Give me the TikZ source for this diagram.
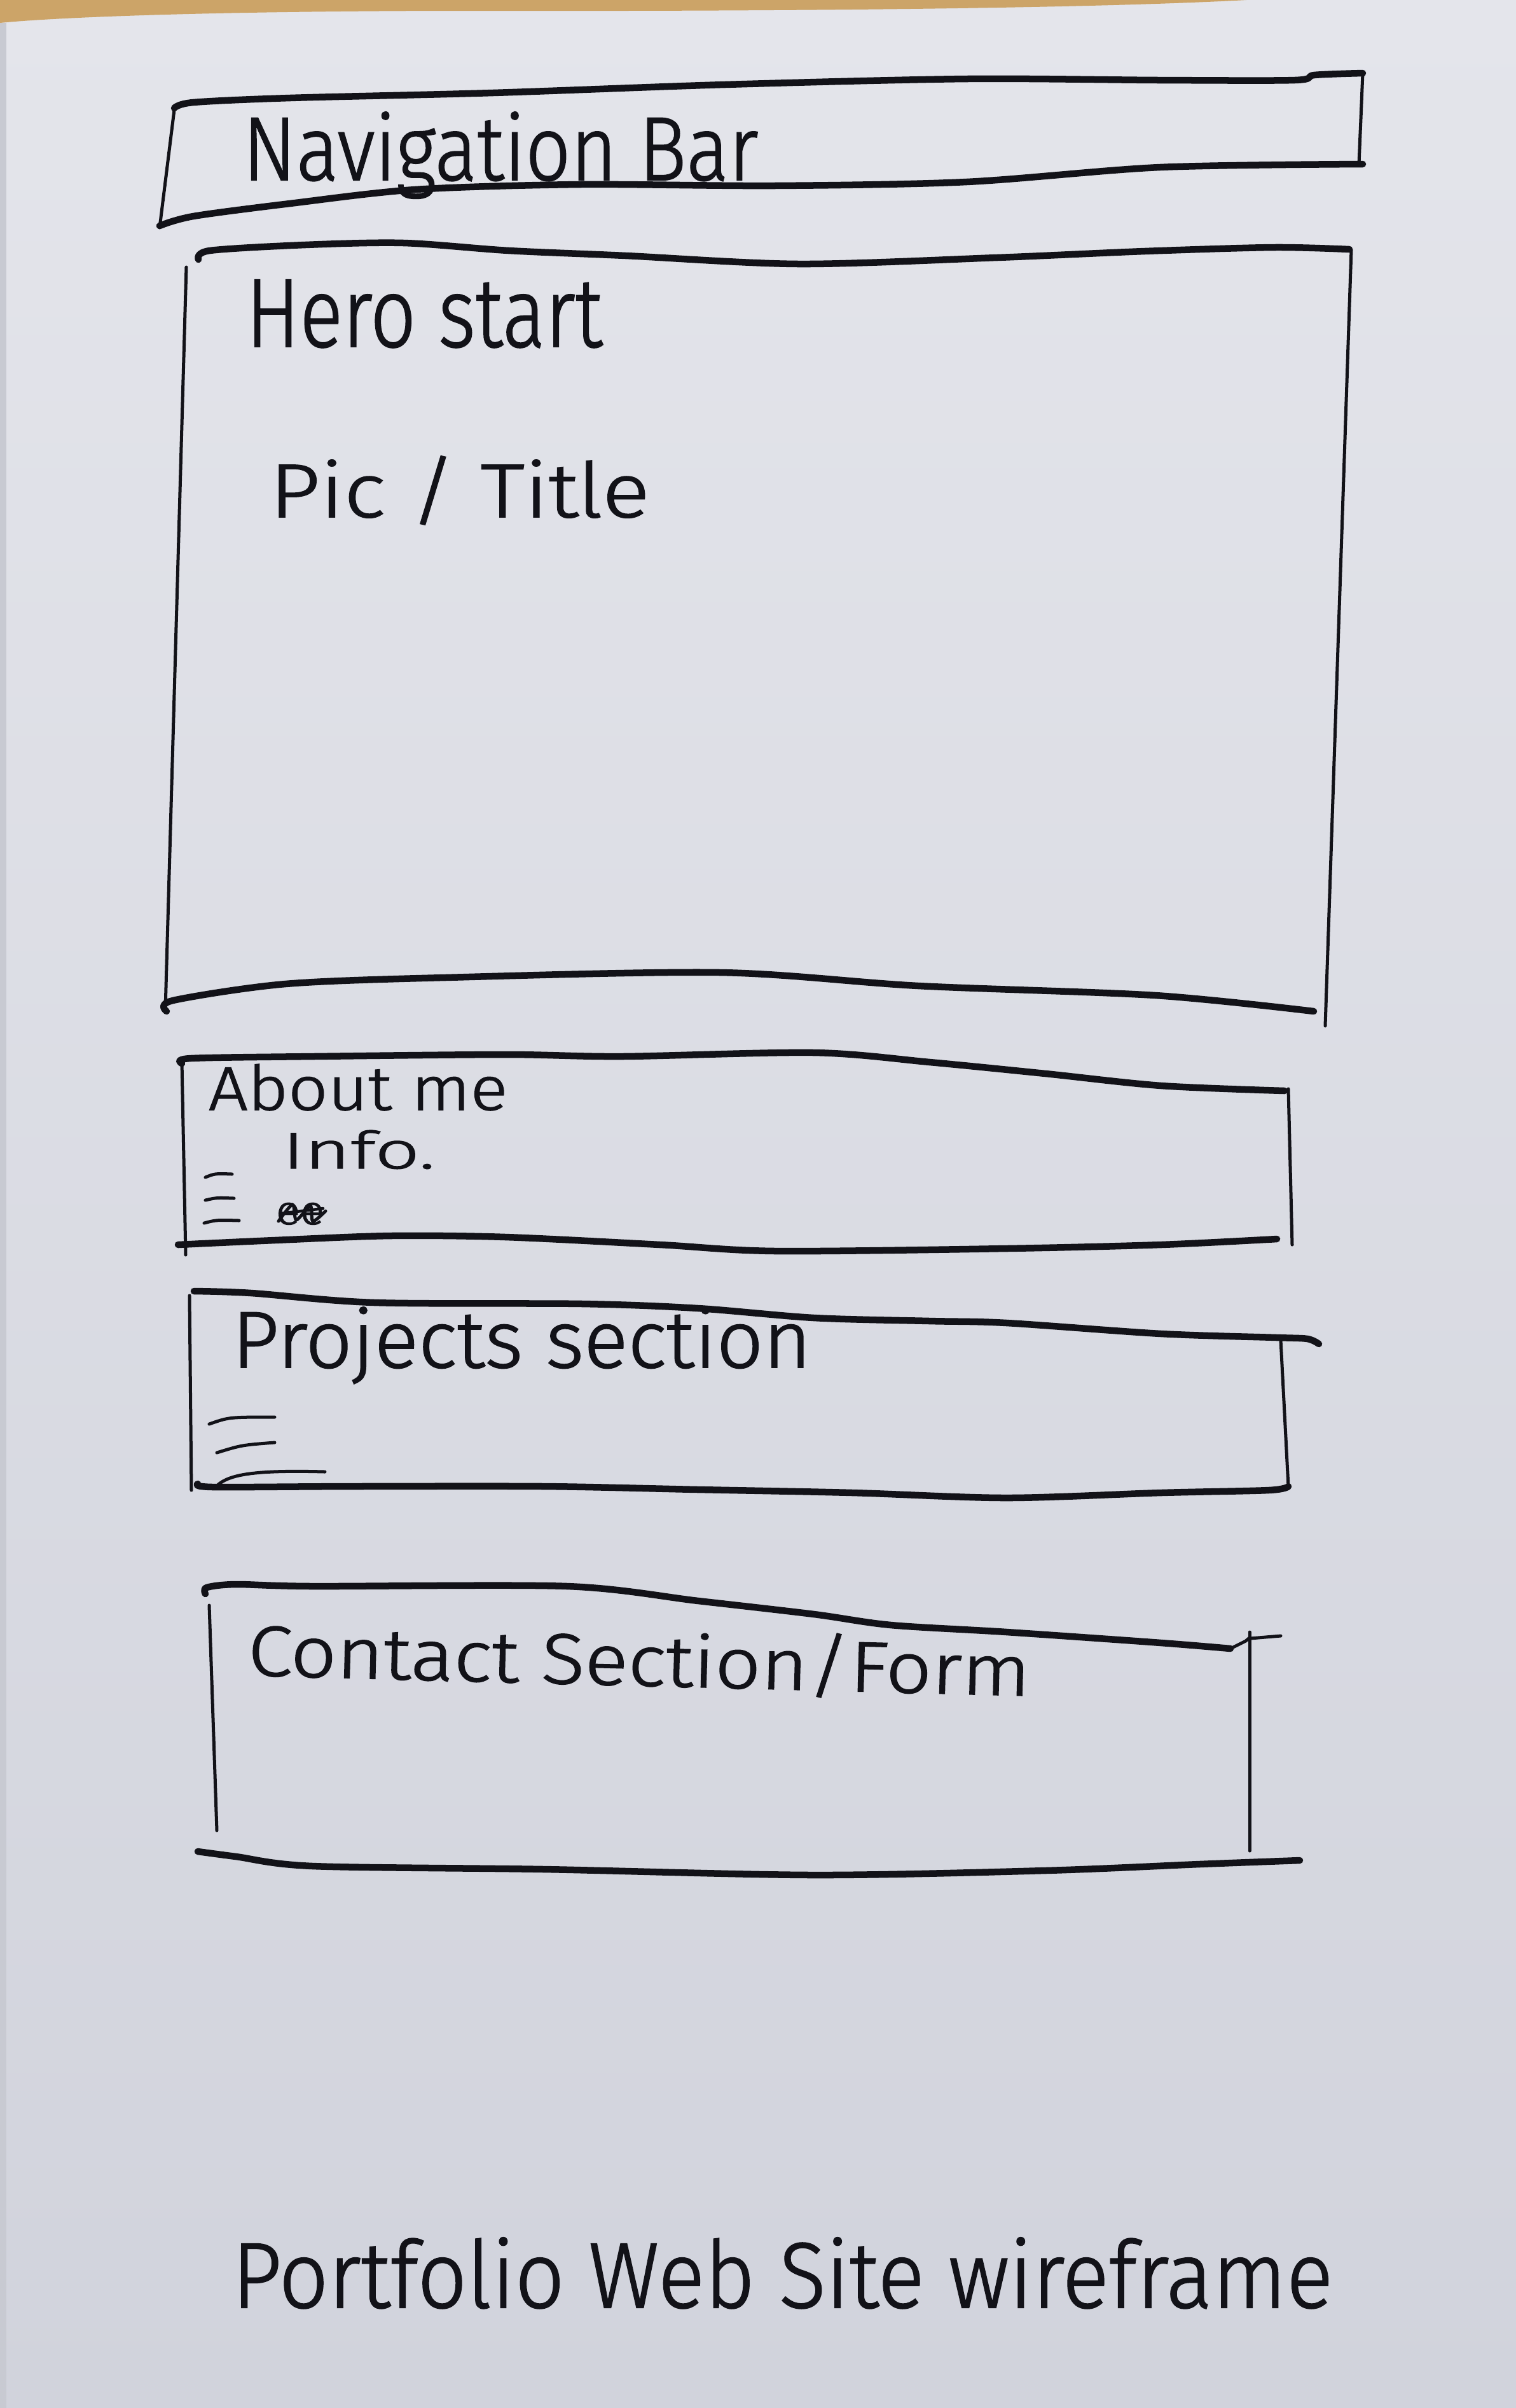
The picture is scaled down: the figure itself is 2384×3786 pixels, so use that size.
\documentclass[tikz,border=0pt]{standalone}
\usepackage{fontspec}
\usepackage{graphicx}
\newfontfamily\handfont{Fira Sans}[UprightFont=* Light, UprightFeatures={FakeBold=1.5}]
\definecolor{ink}{RGB}{18,18,24}
\definecolor{papertop}{RGB}{228,229,235}
\definecolor{paperbot}{RGB}{209,211,220}
\definecolor{wood}{RGB}{204,164,104}
\definecolor{edge}{RGB}{200,202,210}
% handwritten-looking label stretched to a given width and height (cm)
\newcommand\handtext[3]{\resizebox{#1cm}{#2cm}{\handfont #3}}
\begin{document}
\begin{tikzpicture}[x=0.01cm,y=-0.01cm,
  heavy/.style={draw=ink, line width=0.105cm, line cap=round, line join=round},
  fine/.style={draw=ink, line width=0.05cm, line cap=round, line join=round},
  lbl/.style={inner sep=0pt, outer sep=0pt, text=ink, anchor=base west}]

% sheet of paper on the table
\useasboundingbox (0,0) rectangle (2384,3786);
\shade[top color=papertop, bottom color=paperbot] (0,0) rectangle (2384,3786);
\fill[wood] (0,0) -- (1960,0) .. controls (1700,14) and (1200,18) .. (700,17)
  .. controls (300,18) and (80,28) .. (0,36) -- cycle;
\fill[edge] (0,36) rectangle (10,3786);

% ---------- navigation bar ----------
\draw[heavy] plot[smooth] coordinates {(274,170)(304,161)(456,154)(775,146)(1140,133)(1520,124)(1824,126)(2036,126)(2067,118)(2143,115)};
\draw[fine] (2143,115) -- (2137,258);
\draw[heavy] plot[smooth] coordinates {(2143,258)(1824,263)(1520,286)(1216,292)(912,290)(653,298)(456,320)(304,340)(251,355)};
\draw[fine] (274,173) -- (251,358);
\node[lbl] (navtext) at (382,283) {\handtext{8.1}{1.07}{Navigation Bar}};

% ---------- hero section ----------
\draw[heavy] plot[smooth] coordinates {(312,408)(330,394)(480,385)(635,382)(800,394)(984,402)(1257,415)(1568,405)(1800,395)(2003,389)(2122,392)};
\draw[fine] (2125,393) -- (2084,1613);
\draw[fine] (293,420) -- (260,1588);
\draw[heavy] plot[smooth] coordinates {(262,1590)(272,1573)(449,1547)(700,1537)(1133,1529)(1444,1550)(1817,1565)(2066,1590)};
\node[lbl] (herotext) at (387,545) {\handtext{5.6}{1.05}{Hero start}};
\node[lbl] (pictext) at (424,813) {\handtext{5.97}{0.96}{Pic / Title}};

% ---------- about me ----------
\draw[heavy] plot[smooth] coordinates {(286,1672)(300,1664)(492,1661)(795,1658)(977,1661)(1280,1655)(1462,1670)(1644,1688)(1826,1707)(2020,1715)};
\draw[fine] (2026,1712) -- (2032,1957);
\draw[heavy] plot[smooth] coordinates {(2008,1948)(1826,1957)(1583,1963)(1220,1967)(1038,1957)(795,1945)(614,1943)(432,1950)(280,1957)};
\draw[fine] (286,1670) -- (292,1973);
\node[lbl] (abouttext) at (328,1745) {\handtext{4.7}{0.72}{About me}};
\node[lbl] (infotext) at (444,1837) {\handtext{2.4}{0.6}{Info.}};
\draw[fine] (323,1851) .. controls (338,1845) .. (365,1846);
\draw[fine] (323,1887) .. controls (340,1883) .. (368,1884);
\draw[fine] (321,1923) .. controls (340,1918) .. (376,1919);
\node[lbl] (scribble) at (434,1925) {\handtext{0.76}{0.34}{ee}};
\draw[ink, line width=0.05cm, line cap=round] plot[smooth] coordinates {(438,1920)(460,1894)(466,1918)(488,1896)(492,1920)(512,1904)};
\draw[ink, line width=0.045cm, line cap=round] (440,1908) -- (508,1900);

% ---------- projects section ----------
\draw[heavy] plot[smooth] coordinates {(305,2030)(395,2033)(589,2048)(917,2050)(1098,2057)(1280,2072)(1462,2077)(1583,2080)(1826,2097)(2008,2103)(2056,2105)(2074,2113)};
\draw[fine] (2014,2107) -- (2026,2337);
\draw[heavy] plot[smooth] coordinates {(2026,2337)(1995,2343)(1826,2347)(1583,2355)(1341,2347)(1098,2342)(856,2337)(553,2337)(335,2338)(311,2333)};
\draw[fine] (298,2037) -- (301,2343);
\node[lbl] (projtext) at (365,2150) {\handtext{9.1}{0.95}{Projects section}};
\draw[fine] (329,2239) .. controls (360,2228) .. (432,2228);
\draw[fine] (341,2284) .. controls (380,2272) .. (432,2268);
\draw[fine] (341,2336) .. controls (360,2318) and (400,2311) .. (511,2314);

% ---------- contact section ----------
\draw[heavy] plot[smooth] coordinates {(323,2506)(325,2496)(371,2491)(492,2494)(892,2494)(1098,2517)(1280,2538)(1401,2555)(1583,2566)(1826,2583)(1935,2592)};
\draw[fine] (1935,2592) -- (1959,2580) -- (1966,2574);
\draw[fine] (1966,2576) -- (2014,2572);
\draw[fine] (1965,2566) -- (1965,2910);
\draw[fine] (329,2524) -- (341,2878);
\draw[heavy] plot[smooth] coordinates {(311,2911)(371,2919)(492,2934)(856,2939)(1280,2948)(1644,2941)(1886,2931)(2044,2925)};
\node[lbl, rotate=-1.5] (contacttext) at (389,2634) {\handtext{12.3}{0.9}{Contact Section/Form}};

% ---------- caption ----------
\node[lbl] (caption) at (365,3628) {\handtext{17.3}{1.1}{Portfolio Web Site wireframe}};
\end{tikzpicture}
\end{document}
